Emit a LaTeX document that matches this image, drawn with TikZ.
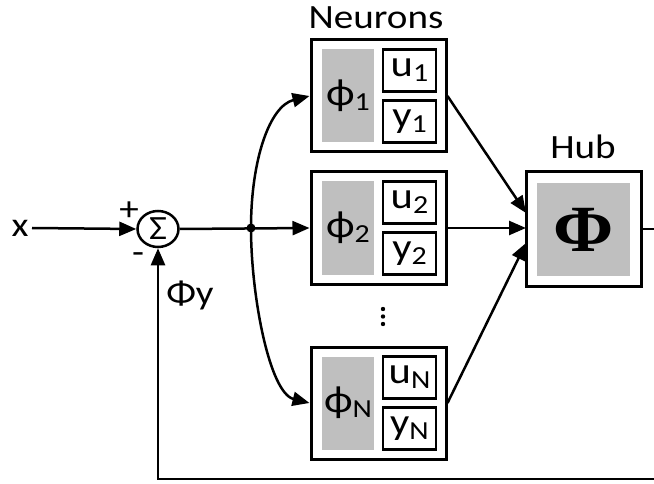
\documentclass[tikz,border=0pt]{standalone}
\usepackage{fontspec}
\setmainfont{Carlito}[FakeStretch=1.15]
\newfontfamily\hubfont{Liberation Serif}[FakeStretch=1.1]
\usetikzlibrary{arrows.meta,shapes.geometric}
\definecolor{cellgray}{RGB}{191,191,191}
\newcommand{\lowsub}[1]{\raisebox{-5pt}{\fontsize{26}{26}\selectfont #1}}

\begin{document}
\begin{tikzpicture}[x=1pt,y=-1pt,
  box/.style={draw=black, line width=3pt, fill=white, inner sep=0pt},
  core/.style={fill=cellgray, inner sep=0pt},
  reg/.style={draw=black, line width=2.7pt, inner sep=0pt, minimum width=53pt, minimum height=42pt,
    font=\fontsize{37}{37}\selectfont},
  arr/.style={line width=2.5pt, -{Triangle[length=17pt, width=14pt]}},
  lbl/.style={font=\fontsize{34}{36}\selectfont}]
\useasboundingbox (0,0) rectangle (654,484);

% neurons
\foreach \nm/\yc in {1/96, 2/228, N/403} {
  \node[box, minimum width=135pt, minimum height=112pt] (n\nm) at (378.5,\yc) {};
  \node[core, minimum width=52pt, minimum height=93pt, font=\fontsize{38}{38}\selectfont] (g\nm) at (348,\yc) {ϕ\lowsub{\nm}};
  \node[reg] (u\nm) at (409.5,\yc-25.5) {u\lowsub{\nm}};
  \node[reg] (y\nm) at (409.5,\yc+25.5) {y\lowsub{\nm}};
}
\foreach \d in {309,316.5,324} \fill (383,\d) circle (2.2pt);

% hub
\node[box, minimum width=115pt, minimum height=114pt] (hub) at (583.5,229) {};
\node[core, minimum size=93pt, font=\hubfont\bfseries\fontsize{66}{66}\selectfont] (hcore) at (583.5,229.5) {Φ};

% summing junction
\node[draw, ellipse, line width=2.5pt, minimum width=41pt, minimum height=36pt, inner sep=0pt,
  font=\fontsize{34}{34}\selectfont] (sig) at (158,229) {Σ};

% labels
\node[lbl] (xin) at (20,228) {x};
\node[lbl] (plus) at (129,211) {+};
\node[lbl] (minus) at (138,258) {-};
\node[lbl] (fbl) at (190,295) {Φy};
\node[lbl] (neur) at (376,18) {Neurons};
\node[lbl] (hubl) at (583,147) {Hub};

% connectors
\coordinate (br) at (251,228);
\coordinate (h1) at (526,213);
\coordinate (h2) at (526,228);
\coordinate (hN) at (526,243);
\coordinate (fbr) at (670,479);
\draw[arr] (xin.east) -- (sig.west);
\draw[arr] (sig.east) -- (n2.west);
\fill (br) circle (4.5pt);
\draw[arr] (br) .. controls +(0,-68) and +(-40,10) .. (n1.west);
\draw[arr] (br) .. controls +(0,68) and +(-40,-10) .. (nN.west);
\draw[arr] (n1.east) -- (h1);
\draw[arr] (n2.east) -- (h2);
\draw[arr] (nN.east) -- (hN);
\draw[arr] (hub.east) -| (fbr) -| (sig.south);
\end{tikzpicture}
\end{document}
